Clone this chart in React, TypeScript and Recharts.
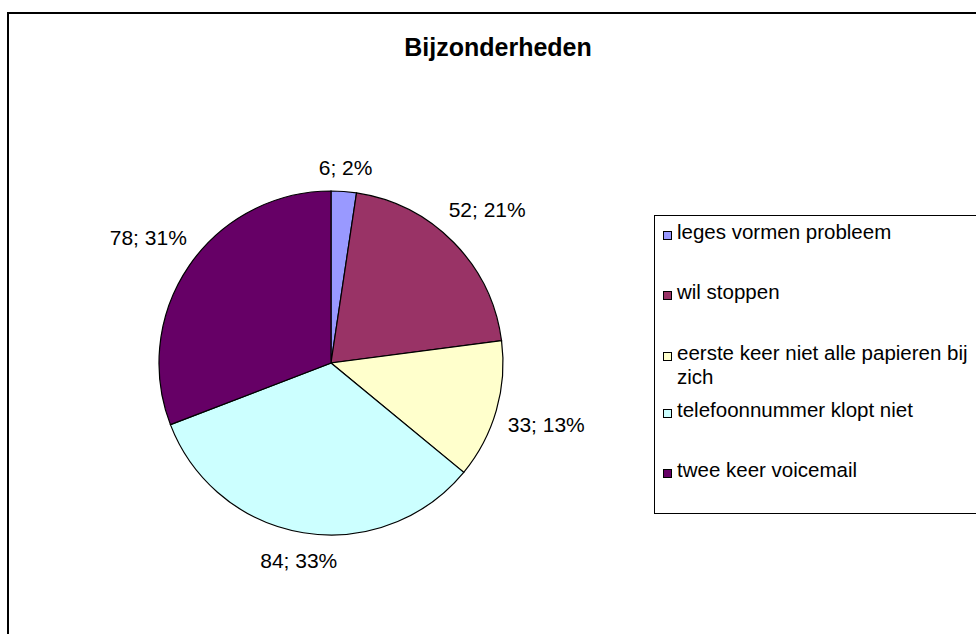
import { PieChart, Pie, Cell } from "recharts";

const categories = [
  "leges vormen probleem",
  "wil stoppen",
  "eerste keer niet alle papieren bij zich",
  "telefoonnummer klopt niet",
  "twee keer voicemail",
];
const counts = [6, 52, 33, 84, 78];
const colors = ["#9999FF", "#993366", "#FFFFCC", "#CCFFFF", "#660066"];

const chartTitle = "Bijzonderheden";

const pieData = categories.map((name, i) => ({ name, value: counts[i] }));

// legend text line tops, relative to legend box (Excel spacing is uneven)
const legendTops = [4, 64, 125, 182, 242];

const FONT = "'Liberation Sans', Arial, sans-serif";
const RAD = Math.PI / 180;

// rough Arial widths (em) to place labels outside the pie like Excel
const charW = (c: string) => {
  if (c === "%") return 0.889;
  if (c === ";" || c === " ") return 0.278;
  return 0.556;
};

const renderLabel = (props: any) => {
  const { cx, cy, midAngle, outerRadius, value, percent } = props;
  const text = `${value}; ${Math.round(percent * 100)}%`;
  const fs = 21;
  const w = text.split("").reduce((s, c) => s + charW(c), 0) * fs;
  const h = fs;
  const cos = Math.cos(-midAngle * RAD);
  const sin = Math.sin(-midAngle * RAD);
  const d = outerRadius + 12 + Math.abs((w / 2) * cos) + Math.abs((h / 2) * sin);
  const x = cx + d * cos;
  const y = cy + d * sin;
  return (
    <text
      x={x}
      y={y}
      textAnchor="middle"
      dominantBaseline="central"
      fontSize={fs}
      fontFamily={FONT}
      fill="#000"
    >
      {text}
    </text>
  );
};

export default function App() {
  return (
    <div
      style={{
        position: "absolute",
        left: 0,
        top: 0,
        width: 976,
        height: 634,
        overflow: "hidden",
        background: "#fff",
        fontFamily: FONT,
      }}
    >
      {/* chart area border */}
      <div
        style={{
          position: "absolute",
          left: 7,
          top: 12,
          width: 1000,
          height: 700,
          border: "2px solid #000",
        }}
      />

      <div
        style={{
          position: "absolute",
          left: 0,
          top: 32,
          width: 996,
          textAlign: "center",
          fontSize: 25,
          lineHeight: "30px",
          fontWeight: "bold",
          color: "#000",
        }}
      >
        {chartTitle}
      </div>

      <div style={{ position: "absolute", left: 0, top: 0 }}>
        <PieChart width={976} height={634} margin={{ top: 0, right: 0, bottom: 0, left: 0 }}>
          <Pie
            data={pieData}
            dataKey="value"
            nameKey="name"
            cx={331}
            cy={363}
            outerRadius={172}
            startAngle={90}
            endAngle={-270}
            stroke="#000"
            strokeWidth={1.2}
            label={renderLabel}
            labelLine={false}
            isAnimationActive={false}
          >
            {pieData.map((d, i) => (
              <Cell key={d.name} fill={colors[i]} />
            ))}
          </Pie>
        </PieChart>
      </div>

      {/* legend */}
      <div
        style={{
          position: "absolute",
          left: 654,
          top: 215,
          width: 400,
          height: 297,
          border: "1.5px solid #000",
          background: "#fff",
        }}
      >
        {categories.map((name, i) => (
          <div
            key={name}
            style={{
              position: "absolute",
              left: 8,
              top: legendTops[i],
              display: "flex",
              alignItems: "flex-start",
            }}
          >
            <div
              style={{
                width: 7,
                height: 7,
                marginTop: 11,
                background: colors[i],
                border: "1px solid #000",
                flexShrink: 0,
              }}
            />
            <div
              style={{
                marginLeft: 5,
                width: 296,
                fontSize: 20.5,
                lineHeight: "24px",
                color: "#000",
              }}
            >
              {name}
            </div>
          </div>
        ))}
      </div>
    </div>
  );
}
